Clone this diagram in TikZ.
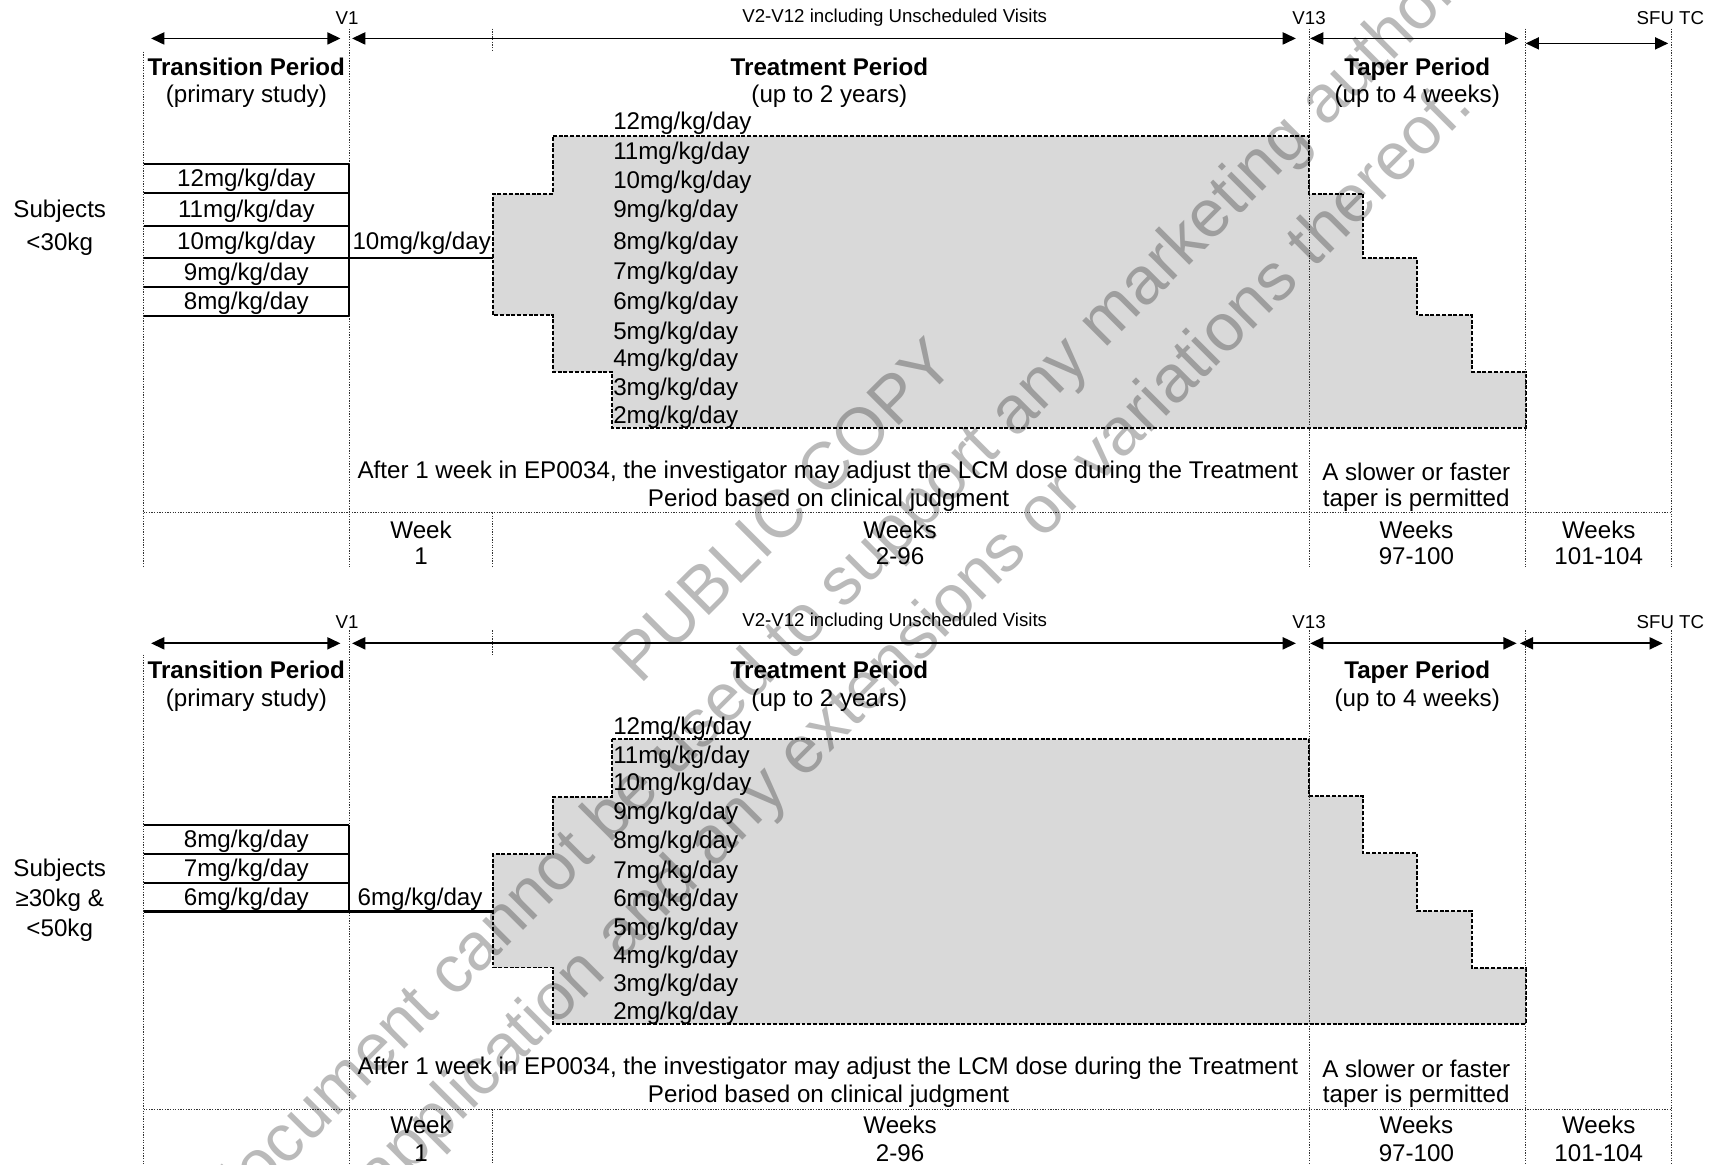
\documentclass[tikz,border=0pt]{standalone}
\usepackage{fontspec}
\setmainfont{Liberation Sans}
\usetikzlibrary{arrows.meta}
\definecolor{dosefill}{HTML}{D9D9D9}
\begin{document}
\begin{tikzpicture}[x=0.5pt,y=-0.5pt,
  txt/.style={font=\fontsize{11}{12.5}\selectfont, inner sep=0pt, align=center, yshift=-0.8pt},
  hdtxt/.style={font=\fontsize{11}{12.5}\selectfont\bfseries, inner sep=0pt},
  vistxt/.style={font=\fontsize{8.5}{10}\selectfont, inner sep=0pt},
  doselbl/.style={font=\fontsize{11}{12.5}\selectfont, inner sep=0pt, anchor=west, yshift=-0.9pt},
  vguide/.style={line width=0.45pt, black!80, dash pattern=on 0.6pt off 0.6pt},
  boxline/.style={line width=1pt},
  periodarrow/.style={line width=0.8pt, {Triangle[length=6pt,width=5.5pt]}-{Triangle[length=6pt,width=5.5pt]}},
  doseband/.style={fill=dosefill, draw=black, line width=0.8pt, dash pattern=on 1.8pt off 0.8pt},
  wmark/.style={font=\fontsize{30.5}{41.5}\selectfont, text=black, text opacity=0.27, align=center, rotate=45, inner sep=0pt},
]
\useasboundingbox (0,0) rectangle (1568,1060);

% =================== UPPER CHART (<30kg) ===================
\draw[doseband] (503.5,124) -- (1192,124) -- (1192,176.5) -- (1241,176.5) -- (1241,235)
  -- (1290.5,235) -- (1290.5,287) -- (1340,287) -- (1340,338.5) -- (1389.3,338.5)
  -- (1389.3,389.4) -- (557.5,389.4) -- (557.5,338.5) -- (503.5,338.5) -- (503.5,287)
  -- (448.8,287) -- (448.8,176.5) -- (503.5,176.5) -- cycle;

\draw[vguide] (130.7,47) -- (130.7,516);
\draw[vguide] (318,26) -- (318,516);
\draw[vguide] (448.8,26) -- (448.8,47);
\draw[vguide] (448.8,467) -- (448.8,516);
\draw[vguide] (1192,26) -- (1192,516);
\draw[vguide] (1389.3,26) -- (1389.3,516);
\draw[vguide] (1522.2,26) -- (1522.2,516);
\draw[vguide] (130.7,467) -- (1522.2,467);

\foreach \yy in {149.6,176,205.5,234.6,261,287.4} \draw[boxline] (130.7,\yy) -- (318,\yy);
\draw[boxline] (318,149.6) -- (318,287.4);
\draw[boxline] (318,234.6) -- (448.8,234.6);

\coordinate (ua1l) at (137.6,35);  \coordinate (ua1r) at (310,35);
\coordinate (ua2l) at (320.6,35);  \coordinate (ua2r) at (1180,35);
\coordinate (ua3l) at (1193,35);   \coordinate (ua3r) at (1382.6,35);
\coordinate (ua4l) at (1389.3,39.5); \coordinate (ua4r) at (1519,39.5);
\draw[periodarrow] (ua1l) -- (ua1r);
\draw[periodarrow] (ua2l) -- (ua2r);
\draw[periodarrow] (ua3l) -- (ua3r);
\draw[periodarrow] (ua4l) -- (ua4r);

\node[vistxt] (uv1) at (316,16.5) {V1};
\node[vistxt] (uvv) at (814.7,16.5) {V2-V12 including Unscheduled Visits};
\node[vistxt] (uv13) at (1192,16.5) {V13};
\node[vistxt] (usfu) at (1521,16.5) {SFU TC};

\node[hdtxt] (utrh) at (224.3,60.7) {Transition Period};
\node[txt] (utrs) at (224.3,86.5) {(primary study)};
\node[hdtxt] (utth) at (755.2,60.7) {Treatment Period};
\node[txt] (utts) at (755.2,86.5) {(up to 2 years)};
\node[hdtxt, yshift=-1.2pt] (utph) at (1290.5,60.7) {Taper Period};
\node[txt] (utps) at (1290.5,86.5) {(up to 4 weeks)};

\node[txt] (usub1) at (54.4,191) {Subjects};
\node[txt] (usub2) at (54.4,220.7) {<30kg};

\node[txt] (ub12) at (224.3,162.8) {12mg/kg/day};
\node[txt] (ub11) at (224.3,190.8) {11mg/kg/day};
\node[txt] (ub10) at (224.3,220) {10mg/kg/day};
\node[txt] (ub9)  at (224.3,248) {9mg/kg/day};
\node[txt] (ub8)  at (224.3,274.2) {8mg/kg/day};
\node[txt] (uwk1) at (384,220.3) {10mg/kg/day};

\node[doselbl] (ud12) at (558,110.8) {12mg/kg/day};
\node[doselbl] (ud11) at (558,138) {11mg/kg/day};
\node[doselbl] (ud10) at (558,164) {10mg/kg/day};
\node[doselbl] (ud9)  at (558,191) {9mg/kg/day};
\node[doselbl] (ud8)  at (558,220) {8mg/kg/day};
\node[doselbl] (ud7)  at (558,247.4) {7mg/kg/day};
\node[doselbl] (ud6)  at (558,274.7) {6mg/kg/day};
\node[doselbl] (ud5)  at (558,302) {5mg/kg/day};
\node[doselbl] (ud4)  at (558,326.3) {4mg/kg/day};
\node[doselbl] (ud3)  at (558,352.7) {3mg/kg/day};
\node[doselbl] (ud2)  at (558,377.9) {2mg/kg/day};

\node[txt] (uaft1) at (753.8,428) {After 1 week in EP0034, the investigator may adjust the LCM dose during the Treatment};
\node[txt] (uaft2) at (754.5,453.8) {Period based on clinical judgment};
\node[txt] (utap1) at (1289.6,428) {A slower or faster};
\node[txt] (utap2) at (1289.6,453.8) {taper is permitted};

\node[txt] (uw1a) at (383.4,480.5) {Week};
\node[txt] (uw1b) at (383.4,505) {1};
\node[txt] (uw2a) at (819.6,480.5) {Weeks};
\node[txt] (uw2b) at (819.6,505) {2-96};
\node[txt] (uw3a) at (1289.7,480.5) {Weeks};
\node[txt] (uw3b) at (1289.7,505) {97-100};
\node[txt] (uw4a) at (1455.8,480.5) {Weeks};
\node[txt] (uw4b) at (1455.8,505) {101-104};

% =================== LOWER CHART (>=30kg & <50kg) ===================
\draw[doseband] (557.5,673) -- (1192,673) -- (1192,725) -- (1241,725) -- (1241,777)
  -- (1290.5,777) -- (1290.5,829.5) -- (1340,829.5) -- (1340,881.5) -- (1389.3,881.5)
  -- (1389.3,932.5) -- (503.5,932.5) -- (503.5,881) -- (448.8,881) -- (448.8,777.7)
  -- (503.5,777.7) -- (503.5,725.4) -- (557.5,725.4) -- cycle;

\draw[vguide] (130.7,596) -- (130.7,1060);
\draw[vguide] (318,574) -- (318,1060);
\draw[vguide] (448.8,574) -- (448.8,597);
\draw[vguide] (448.8,1010) -- (448.8,1060);
\draw[vguide] (1192,574) -- (1192,1060);
\draw[vguide] (1389.3,574) -- (1389.3,1060);
\draw[vguide] (1522.2,574) -- (1522.2,1060);
\draw[vguide] (130.7,1010) -- (1522.2,1010);

\foreach \yy in {751,777.6,803.7,830} \draw[boxline] (130.7,\yy) -- (318,\yy);
\draw[boxline] (318,751) -- (318,830);
\draw[boxline] (318,830) -- (448.8,830);

\coordinate (la1l) at (137.6,585.8);  \coordinate (la1r) at (310,585.8);
\coordinate (la2l) at (320.6,585.8);  \coordinate (la2r) at (1180,585.8);
\coordinate (la3l) at (1193,585.8);   \coordinate (la3r) at (1381,585.8);
\coordinate (la4l) at (1384,585.8);   \coordinate (la4r) at (1514,585.8);
\draw[periodarrow] (la1l) -- (la1r);
\draw[periodarrow] (la2l) -- (la2r);
\draw[periodarrow] (la3l) -- (la3r);
\draw[periodarrow] (la4l) -- (la4r);

\node[vistxt] (lv1) at (316,566) {V1};
\node[vistxt] (lvv) at (814.7,566) {V2-V12 including Unscheduled Visits};
\node[vistxt] (lv13) at (1192,566) {V13};
\node[vistxt] (lsfu) at (1521,566) {SFU TC};

\node[hdtxt] (ltrh) at (224.3,610) {Transition Period};
\node[txt] (ltrs) at (224.3,636) {(primary study)};
\node[hdtxt] (ltth) at (755.2,610) {Treatment Period};
\node[txt] (ltts) at (755.2,636) {(up to 2 years)};
\node[hdtxt, yshift=-1.2pt] (ltph) at (1290.5,610) {Taper Period};
\node[txt] (ltps) at (1290.5,636) {(up to 4 weeks)};

\node[txt] (lsub1) at (54.4,790.7) {Subjects};
\node[txt] (lsub2) at (54.4,818) {≥30kg \&};
\node[txt] (lsub3) at (54.4,845) {<50kg};

\node[txt] (lb8) at (224.3,764.3) {8mg/kg/day};
\node[txt] (lb7) at (224.3,790.6) {7mg/kg/day};
\node[txt] (lb6) at (224.3,816.9) {6mg/kg/day};
\node[txt] (lwk1) at (382.5,817) {6mg/kg/day};

\node[doselbl] (ld12) at (558,661.7) {12mg/kg/day};
\node[doselbl] (ld11) at (558,687.5) {11mg/kg/day};
\node[doselbl] (ld10) at (558,712.7) {10mg/kg/day};
\node[doselbl] (ld9)  at (558,739) {9mg/kg/day};
\node[doselbl] (ld8)  at (558,765) {8mg/kg/day};
\node[doselbl] (ld7)  at (558,792) {7mg/kg/day};
\node[doselbl] (ld6)  at (558,818) {6mg/kg/day};
\node[doselbl] (ld5)  at (558,844.7) {5mg/kg/day};
\node[doselbl] (ld4)  at (558,869.6) {4mg/kg/day};
\node[doselbl] (ld3)  at (558,895.4) {3mg/kg/day};
\node[doselbl] (ld2)  at (558,921.2) {2mg/kg/day};

\node[txt] (laft1) at (753.8,971.3) {After 1 week in EP0034, the investigator may adjust the LCM dose during the Treatment};
\node[txt] (laft2) at (754.5,996.7) {Period based on clinical judgment};
\node[txt] (ltap1) at (1289.6,971.3) {A slower or faster};
\node[txt] (ltap2) at (1289.6,996.7) {taper is permitted};

\node[txt] (lw1a) at (383.4,1022.5) {Week};
\node[txt] (lw1b) at (383.4,1048) {1};
\node[txt] (lw2a) at (819.6,1022.5) {Weeks};
\node[txt] (lw2b) at (819.6,1048) {2-96};
\node[txt] (lw3a) at (1289.7,1022.5) {Weeks};
\node[txt] (lw3b) at (1289.7,1048) {97-100};
\node[txt] (lw4a) at (1455.8,1022.5) {Weeks};
\node[txt] (lw4b) at (1455.8,1048) {101-104};

% =================== WATERMARK ===================
\node[wmark] (wm) at (776,527) {PUBLIC COPY\\This document cannot be used to support any marketing authorization\\application and any extensions or variations thereof.};
\end{tikzpicture}
\end{document}
